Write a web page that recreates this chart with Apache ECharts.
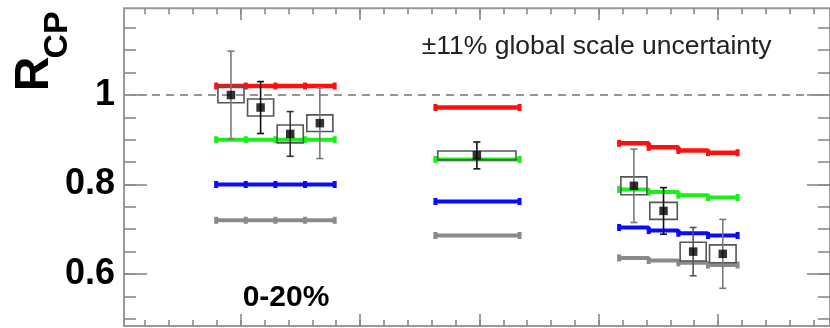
<!DOCTYPE html>
<html>
<head>
<meta charset="utf-8">
<script src="https://cdn.jsdelivr.net/npm/echarts@6/dist/echarts.min.js"></script>
<style>
  html, body { margin: 0; padding: 0; background: #fff; }
  #chart { width: 830px; height: 328px; }
</style>
</head>
<body>
<div id="chart"></div>
<script>
// ---- data ---------------------------------------------------------------
// Bin edges along the (unlabelled) horizontal axis, one set per group
const edgesA = [3, 4.25, 5.5, 6.75, 8];
const edgesB = [12.25, 15.8];
const edgesC = [20, 21.25, 22.5, 23.75, 25];

// Model curves, one value per bin
const redA   = [1.02, 1.02, 1.02, 1.02];
const greenA = [0.90, 0.90, 0.90, 0.90];
const blueA  = [0.80, 0.80, 0.80, 0.80];
const greyA  = [0.72, 0.72, 0.72, 0.72];

const redB   = [0.972];
const greenB = [0.856];
const blueB  = [0.762];
const greyB  = [0.686];

const redC   = [0.892, 0.883, 0.876, 0.871];
const greenC = [0.789, 0.783, 0.776, 0.771];
const blueC  = [0.704, 0.697, 0.691, 0.686];
const greyC  = [0.636, 0.630, 0.625, 0.620];

// Measured R_CP with statistical and systematic uncertainties
const pointX   = [3.625, 4.875, 6.125, 7.375, 14.0, 20.625, 21.875, 23.125, 24.375];
const pointY   = [1.000, 0.972, 0.913, 0.937, 0.865, 0.797, 0.741, 0.650, 0.645];
const statErr  = [0.098, 0.058, 0.050, 0.079, 0.030, 0.082, 0.052, 0.054, 0.077];
const sysErr   = [0.0175, 0.019, 0.020, 0.0186, 0.010, 0.020, 0.019, 0.021, 0.020];
const sysHalfW = [0.55, 0.55, 0.55, 0.55, 1.65, 0.55, 0.58, 0.55, 0.56];

// Reference level and axis tick labels
const unityLevel   = 1;
const yTickValues  = [0.6, 0.8, 1.0];
const yTickLabels  = ['0.6', '0.8', '1'];

// ---- layout -------------------------------------------------------------
const FONT = '"Liberation Sans", Arial, Helvetica, sans-serif';
const FL = 124, FT = 8.3, FW = 711, FH = 317.7;
const X_MIN = -0.888, X_MAX = 28.898;
const Y_MIN = 0.4838, Y_MAX = 1.1937;
const px = v => FL + (v - X_MIN) / (X_MAX - X_MIN) * FW;
const py = v => FT + (Y_MAX - v) / (Y_MAX - Y_MIN) * FH;

const errColor = ['#7a7a7a', '#111', '#333', '#7a7a7a', '#111', '#7a7a7a', '#111', '#555', '#7a7a7a'];

const tickStyle = { color: '#8a8a8a', width: 1.6 };

function tickAxis(gridIndex, position, min, max, interval, len, extra) {
  return Object.assign({
    gridIndex, position, type: 'value', min, max, interval,
    axisLine: { show: false },
    axisTick: { show: true, inside: true, length: len, lineStyle: tickStyle },
    axisLabel: { show: false },
    splitLine: { show: false }
  }, extra || {});
}
const hidden = (gridIndex) => ({ gridIndex, type: 'value', show: false, splitLine: { show: false } });

// Step-shaped model line for one group
function stepPoints(edges, vals) {
  return edges.map((e, i) => [e, vals[Math.min(i, vals.length - 1)]]);
}
const modelSets = [
  { color: '#ff1010', width: 4.5, groups: [[edgesA, redA], [edgesB, redB], [edgesC, redC]] },
  { color: '#19f019', width: 4,   groups: [[edgesA, greenA], [edgesB, greenB], [edgesC, greenC]] },
  { color: '#0a0aff', width: 4,   groups: [[edgesA, blueA], [edgesB, blueB], [edgesC, blueC]] },
  { color: '#8a8a8a', width: 4,   groups: [[edgesA, greyA], [edgesB, greyB], [edgesC, greyC]] }
];
const modelSeries = [];
modelSets.forEach(m => m.groups.forEach(([edges, vals]) => {
  modelSeries.push({
    type: 'line', xAxisIndex: 0, yAxisIndex: 0, step: 'end',
    data: stepPoints(edges, vals),
    symbol: 'rect', symbolSize: [4, 7], showSymbol: true,
    itemStyle: { color: m.color },
    lineStyle: { color: m.color, width: m.width },
    z: 2, silent: true
  });
}));

const pointData = pointX.map((x, i) => [x, pointY[i], statErr[i], sysErr[i], sysHalfW[i]]);

const chart = echarts.init(document.getElementById('chart'), null, { renderer: 'canvas' });
chart.setOption({
  animation: false,
  backgroundColor: '#fff',
  grid: [
    { left: FL, top: FT, width: FW, height: FH, show: true, borderColor: '#999', borderWidth: 2, backgroundColor: 'transparent' },
    { left: px(0), top: FT, width: px(28) - px(0), height: FH },
    { left: px(4), top: FT, width: px(24) - px(4), height: FH },
    { left: FL, top: py(1.15), width: FW, height: py(0.5) - py(1.15) },
    { left: FL, top: py(1.0), width: FW, height: py(0.6) - py(1.0) }
  ],
  xAxis: [
    { gridIndex: 0, type: 'value', min: X_MIN, max: X_MAX, show: false, splitLine: { show: false } },
    tickAxis(1, 'bottom', 0, 28, 1, 6),
    tickAxis(1, 'top', 0, 28, 1, 6),
    tickAxis(2, 'bottom', 0, 20, 5, 12),
    tickAxis(2, 'top', 0, 20, 5, 12),
    hidden(3),
    hidden(4)
  ],
  yAxis: [
    { gridIndex: 0, type: 'value', min: Y_MIN, max: Y_MAX, show: false, splitLine: { show: false } },
    hidden(1),
    hidden(2),
    tickAxis(3, 'left', 0.5, 1.15, 0.05, 12),
    tickAxis(3, 'right', 0.5, 1.15, 0.05, 12),
    tickAxis(4, 'left', 0.6, 1.0, 0.2, 23, {
      axisLabel: {
        show: true, margin: 9, color: '#000', fontSize: 36, fontWeight: 'bold', fontFamily: FONT,
        formatter: v => {
          const i = yTickValues.findIndex(t => Math.abs(t - v) < 1e-9);
          return i >= 0 ? yTickLabels[i] : '';
        }
      }
    }),
    tickAxis(4, 'right', 0.6, 1.0, 0.2, 23)
  ],
  series: [
    {
      type: 'line', xAxisIndex: 0, yAxisIndex: 0,
      data: [[X_MIN, unityLevel], [X_MAX, unityLevel]],
      symbol: 'none', silent: true, z: 1,
      lineStyle: { color: '#959595', width: 1.8, type: [8, 6] }
    },
    ...modelSeries,
    {
      type: 'custom', xAxisIndex: 0, yAxisIndex: 0, z: 3, silent: true,
      data: pointData,
      renderItem: (params, api) => {
        const x = api.value(0), y = api.value(1), st = api.value(2), sy = api.value(3), hw = api.value(4);
        const c = api.coord([x, y]);
        const tl = api.coord([x - hw, y + sy]);
        const br = api.coord([x + hw, y - sy]);
        const top = api.coord([x, y + st]);
        const bot = api.coord([x, y - st]);
        const col = errColor[params.dataIndex];
        const cap = 3.5;
        return {
          type: 'group',
          children: [
            { type: 'rect', shape: { x: tl[0], y: tl[1], width: br[0] - tl[0], height: br[1] - tl[1] },
              style: { fill: 'none', stroke: '#555', lineWidth: 1.6 } },
            { type: 'line', shape: { x1: c[0], y1: top[1], x2: c[0], y2: bot[1] }, style: { stroke: col, lineWidth: 1.6 } },
            { type: 'line', shape: { x1: c[0] - cap, y1: top[1], x2: c[0] + cap, y2: top[1] }, style: { stroke: col, lineWidth: 1.6 } },
            { type: 'line', shape: { x1: c[0] - cap, y1: bot[1], x2: c[0] + cap, y2: bot[1] }, style: { stroke: col, lineWidth: 1.6 } }
          ]
        };
      }
    },
    {
      type: 'scatter', xAxisIndex: 0, yAxisIndex: 0, z: 4, silent: true,
      data: pointX.map((x, i) => [x, pointY[i]]),
      symbol: 'rect', symbolSize: 8.5,
      itemStyle: { color: '#000' }
    }
  ],
  graphic: [
    { type: 'text', x: 35, y: 74, rotation: Math.PI / 2,
      style: { text: 'R', font: 'bold 48px ' + FONT, fill: '#000', align: 'center', verticalAlign: 'middle' } },
    { type: 'text', x: 58, y: 35, rotation: Math.PI / 2,
      style: { text: 'CP', font: 'bold 34px ' + FONT, fill: '#000', align: 'center', verticalAlign: 'middle' } },
    { type: 'text', x: 421.7, y: 47,
      style: { text: '±11% global scale uncertainty', font: '26.5px ' + FONT, fill: '#222', align: 'left', verticalAlign: 'middle' } },
    { type: 'text', x: 286, y: 298,
      style: { text: '0-20%', font: 'bold 30px ' + FONT, fill: '#000', align: 'center', verticalAlign: 'middle' } }
  ]
});
</script>
</body>
</html>
